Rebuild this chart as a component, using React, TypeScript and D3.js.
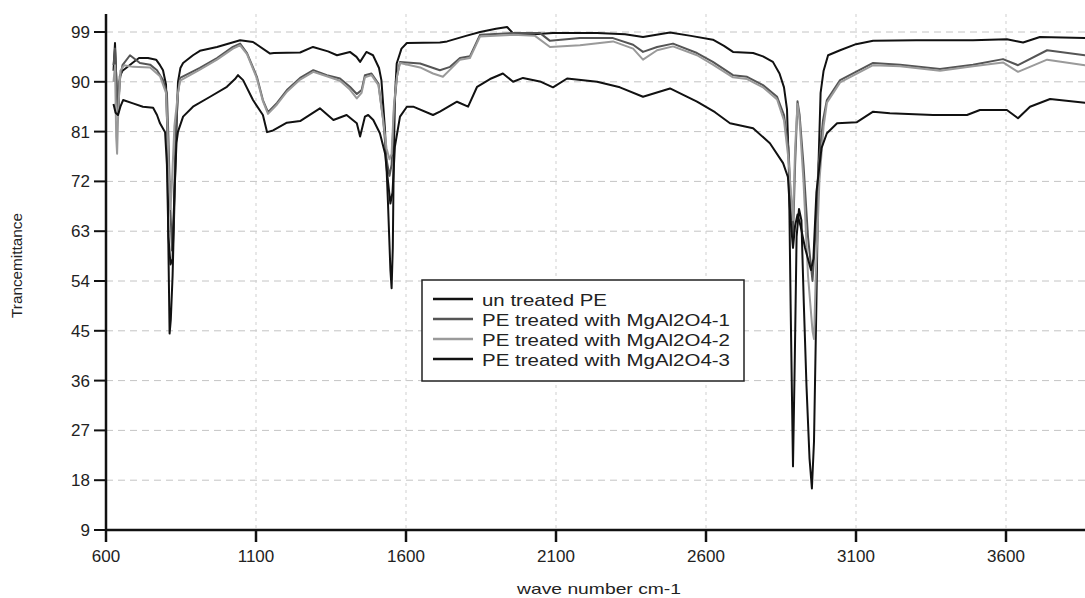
import React from "react";
import * as d3 from "d3";

type Pt = [number, number];

const xTicks = [600, 1100, 1600, 2100, 2600, 3100, 3600];
const yTicks = [9, 18, 27, 36, 45, 54, 63, 72, 81, 90, 99];

const seriesNames = [
  "un treated PE",
  "PE treated with MgAl2O4-1",
  "PE treated with MgAl2O4-2",
  "PE treated with MgAl2O4-3",
];

const untreatedPE: Pt[] = [
  [625, 92], [630, 97], [636, 88], [641, 84.5], [646, 91], [655, 92], [667, 92.5], [690, 93.5], [710, 94.3],
  [740, 94.3], [767, 94], [780, 93], [790, 92.1], [800, 89.5], [805, 80], [808, 60], [812, 44.5], [816, 47],
  [822, 55], [828, 68], [834, 80], [840, 90], [848, 92.5], [857, 93.4], [890, 94.8], [913, 95.6], [970, 96.3],
  [1047, 97.5], [1090, 97.2], [1147, 95.1], [1160, 95.2], [1247, 95.3], [1290, 96.3], [1340, 95.5], [1370, 94.8],
  [1413, 95.4], [1435, 94.5], [1447, 93.6], [1468, 95.4], [1490, 94.8], [1510, 92.5], [1518, 90.3], [1530, 81.3],
  [1540, 68], [1548, 56], [1552, 52.7], [1556, 60], [1559, 75], [1563, 87], [1569, 93.3], [1585, 96], [1603, 97],
  [1713, 97.1], [1737, 97.3], [1800, 98.3], [1847, 99], [1900, 99.6], [1937, 99.9], [1958, 98.7], [2000, 98.5],
  [2090, 98.8], [2237, 98.8], [2330, 98.6], [2390, 98.1], [2480, 98.9], [2550, 98.3], [2623, 97.6], [2660, 96.5],
  [2690, 95.4], [2757, 95.2], [2790, 94.6], [2823, 93.6], [2845, 91.5], [2860, 89], [2870, 85], [2876, 75],
  [2882, 50], [2890, 20.5], [2896, 40], [2902, 62], [2910, 67], [2918, 65], [2926, 50], [2935, 35], [2945, 22],
  [2953, 16.5], [2960, 25], [2968, 50], [2975, 75], [2982, 88], [2992, 92], [3007, 94.8], [3047, 95.7],
  [3100, 96.8], [3157, 97.4], [3300, 97.5], [3490, 97.5], [3603, 97.7], [3640, 97.3], [3657, 97.1], [3713, 98.1],
  [3863, 97.9], [3900, 97.8],
];

const treated1: Pt[] = [
  [625, 93], [630, 96], [635, 90], [640, 84], [645, 90], [655, 93], [680, 94.8], [713, 93.4], [747, 93.1],
  [770, 92.1], [790, 90.3], [803, 88], [808, 80], [814, 68], [820, 59.5], [826, 66], [832, 80], [840, 88],
  [847, 90.7], [913, 92.5], [970, 94.3], [1023, 96.3], [1047, 96.9], [1070, 95.2], [1103, 90.9], [1123, 86.7],
  [1140, 84.5], [1170, 86.2], [1203, 88.5], [1247, 90.7], [1291, 92.1], [1336, 91.2], [1380, 90.6], [1413, 89.1],
  [1436, 87.8], [1452, 88.5], [1463, 91.2], [1485, 91.5], [1508, 89.7], [1524, 83.1], [1535, 76], [1545, 73],
  [1552, 75], [1560, 85], [1570, 91], [1580, 93.6], [1647, 93.3], [1713, 92.1], [1747, 92.7], [1780, 94.3],
  [1813, 94.6], [1847, 98.5], [1957, 98.8], [2047, 98.8], [2080, 97.4], [2180, 97.9], [2290, 97.9], [2357, 96.7],
  [2390, 95.4], [2437, 96.3], [2490, 96.9], [2570, 95.2], [2623, 93.6], [2690, 91.2], [2737, 90.9], [2790, 89.4],
  [2837, 87.3], [2860, 84], [2875, 78], [2883, 68], [2890, 62], [2897, 75], [2905, 86.5], [2912, 84], [2925, 75],
  [2940, 62], [2955, 54], [2962, 60], [2975, 75], [2990, 83], [3003, 86.7], [3047, 90.3], [3157, 93.4],
  [3247, 93.1], [3380, 92.3], [3490, 93.1], [3590, 94.1], [3640, 93], [3737, 95.7], [3863, 94.8], [3900, 94.6],
];

const treated2: Pt[] = [
  [625, 90], [630, 93], [634, 80], [637, 77], [641, 85], [648, 92], [660, 93], [690, 92.7], [747, 92.6],
  [780, 91], [800, 88], [806, 80], [811, 70], [815, 67], [820, 72], [828, 82], [840, 88], [847, 90.2], [913, 92.2],
  [970, 94], [1023, 96], [1047, 96.6], [1070, 95], [1103, 90.6], [1123, 86.5], [1140, 84.2], [1170, 85.9],
  [1203, 88.2], [1247, 90.4], [1291, 91.8], [1336, 91], [1380, 90.2], [1413, 88.6], [1436, 87], [1452, 88],
  [1463, 90.8], [1485, 91.2], [1508, 89.4], [1524, 83], [1535, 78], [1545, 76], [1552, 77], [1560, 86], [1570, 91],
  [1580, 93.4], [1647, 92.6], [1690, 91.5], [1723, 90.9], [1747, 92.2], [1780, 94], [1813, 94.3], [1847, 98.2],
  [1957, 98.5], [2030, 98.3], [2080, 96.3], [2180, 96.6], [2290, 97.3], [2357, 96], [2390, 94], [2437, 95.7],
  [2490, 96.4], [2570, 94.8], [2623, 93.1], [2690, 90.8], [2737, 90.5], [2790, 89], [2837, 86.8], [2860, 83],
  [2875, 76], [2883, 70], [2890, 65], [2897, 78], [2905, 86], [2912, 83], [2925, 72], [2940, 55], [2955, 45],
  [2960, 43.5], [2966, 55], [2978, 72], [2992, 82], [3003, 86.2], [3047, 89.9], [3157, 93], [3247, 92.8],
  [3380, 92], [3490, 92.8], [3590, 93.5], [3640, 91.8], [3737, 94], [3863, 93], [3900, 92.8],
];

const treated3: Pt[] = [
  [625, 86], [632, 84.4], [640, 84], [648, 85.5], [657, 86.7], [690, 86.1], [723, 85.5], [757, 85.3], [770, 84],
  [780, 82.5], [797, 80.9], [803, 75], [808, 62], [815, 57], [822, 58], [828, 70], [835, 79], [840, 81],
  [857, 83.7], [890, 85.5], [947, 87.3], [1003, 89.1], [1030, 90.5], [1040, 91.2], [1057, 90.3], [1090, 86.7],
  [1123, 84], [1137, 80.9], [1157, 81.2], [1203, 82.6], [1247, 82.9], [1313, 85.2], [1358, 83.1], [1402, 84],
  [1436, 82.5], [1447, 80.1], [1463, 83.7], [1474, 84], [1491, 83.1], [1513, 80.7], [1530, 77.1], [1540, 72],
  [1548, 68], [1555, 70], [1563, 78.3], [1580, 83.7], [1603, 85.5], [1624, 85.5], [1690, 84], [1713, 84.6],
  [1770, 86.4], [1807, 85.5], [1837, 89.1], [1880, 90.5], [1923, 91.5], [1957, 90], [1990, 90.7], [2050, 90],
  [2090, 89], [2137, 90.6], [2237, 90], [2313, 89], [2390, 87.3], [2480, 88.8], [2570, 86.4], [2630, 84.5],
  [2680, 82.5], [2757, 81.6], [2813, 78.9], [2857, 75.3], [2873, 72.8], [2882, 65], [2890, 60], [2897, 64],
  [2905, 66], [2915, 64], [2930, 60], [2950, 56], [2958, 58], [2968, 70], [2985, 78], [3003, 80.7], [3037, 82.5],
  [3103, 82.7], [3157, 84.6], [3213, 84.3], [3357, 84], [3470, 84], [3513, 84.9], [3603, 84.9], [3640, 83.4],
  [3680, 85.5], [3747, 86.9], [3863, 86.2], [3900, 86],
];

const allSeries = [untreatedPE, treated1, treated2, treated3];
const colors = ["#111111", "#555555", "#9a9a9a", "#111111"];
const legendWidths = [125, 248, 248, 248];

const W = 1085;
const H = 598;
const left = 106;
const bottom = 530;
const top = 14;

export default function App() {
  const x = d3.scaleLinear().domain([600, 4000]).range([left, left + 3400 * 0.3]);
  const y = d3.scaleLinear().domain([9, 99]).range([bottom, 32]);
  const line = d3
    .line<Pt>()
    .x((d) => x(d[0]))
    .y((d) => y(d[1]));

  const font = "Arial, 'Liberation Sans', sans-serif";
  const lx = 422, ly = 280, lw = 322, lh = 101;

  return (
    <svg
      width={W}
      height={H}
      style={{ position: "absolute", left: 0, top: 0, background: "#fff" }}
      fontFamily={font}
    >
      <rect x={0} y={0} width={W} height={H} fill="#fff" />
      {/* grid */}
      {yTicks.map((t) => (
        <line key={"gy" + t} x1={left} x2={W} y1={y(t)} y2={y(t)} stroke="#c4c4c4" strokeWidth={1} strokeDasharray="7,5" />
      ))}
      {xTicks.map((t) => (
        <line key={"gx" + t} x1={x(t)} x2={x(t)} y1={top} y2={bottom} stroke="#cfcfcf" strokeWidth={1} strokeDasharray="3,4" />
      ))}
      {/* series */}
      {allSeries.map((s, i) => (
        <path key={"s" + i} d={line(s) || ""} fill="none" stroke={colors[i]} strokeWidth={2} strokeLinejoin="round" />
      ))}
      {/* axes */}
      <line x1={left} x2={left} y1={top} y2={bottom + 1} stroke="#111" strokeWidth={2.5} />
      <line x1={left - 1} x2={W} y1={bottom} y2={bottom} stroke="#111" strokeWidth={2.5} />
      {yTicks.map((t) => (
        <g key={"ty" + t}>
          <line x1={left - 12} x2={left} y1={y(t)} y2={y(t)} stroke="#111" strokeWidth={2} />
          <text x={left - 16} y={y(t)} dy="0.35em" textAnchor="end" fontSize={17} fill="#222">
            {t}
          </text>
        </g>
      ))}
      {xTicks.map((t) => (
        <g key={"tx" + t}>
          <line x1={x(t)} x2={x(t)} y1={bottom} y2={bottom + 12} stroke="#111" strokeWidth={2.5} />
          <text x={x(t)} y={bottom + 32} textAnchor="middle" fontSize={17} fill="#222">
            {t}
          </text>
        </g>
      ))}
      <text
        transform={`translate(22,${(213 + 318) / 2}) rotate(-90)`}
        textAnchor="middle"
        fontSize={14}
        fill="#222"
        textLength={105}
        lengthAdjust="spacingAndGlyphs"
      >
        Trancemittance
      </text>
      <text x={599} y={594} textAnchor="middle" fontSize={15} fill="#222" textLength={164} lengthAdjust="spacingAndGlyphs">
        wave number cm-1
      </text>
      {/* legend */}
      <rect x={lx} y={ly} width={lw} height={lh} fill="#fff" stroke="#222" strokeWidth={1.5} />
      {seriesNames.map((n, i) => (
        <g key={"l" + i}>
          <line x1={433} x2={473} y1={299 + i * 20} y2={299 + i * 20} stroke={colors[i]} strokeWidth={2.5} />
          <text
            x={482}
            y={306 + i * 20}
            fontSize={17}
            fill="#222"
            textLength={legendWidths[i]}
            lengthAdjust="spacingAndGlyphs"
          >
            {n}
          </text>
        </g>
      ))}
    </svg>
  );
}
